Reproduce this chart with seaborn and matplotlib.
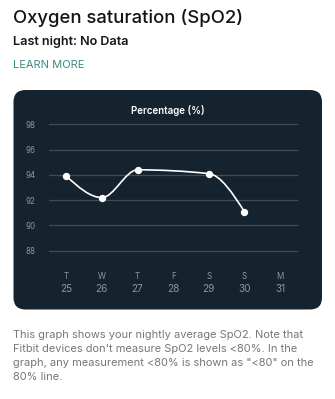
import numpy as np
import pandas as pd
import seaborn as sns
import matplotlib
matplotlib.use("Agg")
import matplotlib.pyplot as plt
from matplotlib.patches import FancyBboxPatch, PathPatch
from matplotlib.path import Path

# ---- data ----
day_letters = ["T", "W", "T", "F", "S", "S", "M"]
day_numbers = ["25", "26", "27", "28", "29", "30", "31"]
spo2 = [93.9, 92.2, 94.4, None, 94.1, 91.1, None]
y_ticks = [88, 90, 92, 94, 96, 98]

title = "Oxygen saturation (SpO2)"
subtitle = "Last night: No Data"
link = "LEARN MORE"
chart_title = "Percentage (%)"
note_lines = ["This graph shows your nightly average SpO2. Note that",
              "Fitbit devices don't measure SpO2 levels <80%. In the",
              "graph, any measurement <80% is shown as \"<80\" on the",
              "80% line."]

W, H = 335, 399
sns.set_theme(style="white")
plt.rcParams["font.family"] = ["Inter", "DejaVu Sans"]

fig = plt.figure(figsize=(W / 100, H / 100), dpi=100)
fig.patch.set_facecolor("white")

def fx(px):
    return px / W

def fy(py):
    return 1 - py / H

# header texts
fig.text(fx(13), fy(23.3), title, fontsize=13.3, color="#141414", va="baseline", ha="left", fontweight="medium")
fig.text(fx(13), fy(45), subtitle, fontsize=9.1, color="#161616", va="baseline", ha="left", fontweight="semibold")
fig.text(fx(13), fy(68.3), link, fontsize=8.0, color="#3a8b84", va="baseline", ha="left")

# card
card_bg = "#15232f"
card = FancyBboxPatch((fx(13.5), fy(309.5)), fx(322 - 13.5), (309.5 - 90) / H,
                      boxstyle="round,pad=0,rounding_size=0.036",
                      transform=fig.transFigure, facecolor=card_bg, edgecolor="none",
                      mutation_aspect=W / H, zorder=-10)
fig.patches.append(card)

fig.text(fx(168), fy(114.3), chart_title, fontsize=7.0, color="white", ha="center", va="baseline", fontweight="semibold")

# axes
x_left, x_right = 48.5, 297.8
y_top, y_bot = 111.7, 263.3
ax = fig.add_axes([fx(x_left), fy(y_bot), (x_right - x_left) / W, (y_bot - y_top) / H])
ax.set_facecolor("none")
ax.patch.set_visible(False)
ax.set_xlim(-0.5, 6.5)
ax.set_ylim(87, 99)
for s in ax.spines.values():
    s.set_visible(False)

for t in y_ticks:
    ax.axhline(t, color="#3d4d59", lw=0.9, zorder=1)

ax.set_yticks(y_ticks)
ax.set_yticklabels([str(t) for t in y_ticks], fontsize=5.8, color="#8b959c")
ax.tick_params(axis="y", length=0, pad=9.5)
ax.set_xticks([])

df = pd.DataFrame({"x": np.arange(len(day_numbers)), "v": spo2}).dropna()
xs = df["x"].to_numpy(float)
ys = df["v"].to_numpy(float)

# monotone cubic curve (d3 monotoneX style) as bezier path
n = len(xs)
h = np.diff(xs)
s = np.diff(ys) / h
t = np.zeros(n)
for i in range(1, n - 1):
    p = (s[i - 1] * h[i] + s[i] * h[i - 1]) / (h[i - 1] + h[i])
    t[i] = (np.sign(s[i - 1]) + np.sign(s[i])) * min(abs(s[i - 1]), abs(s[i]), 0.5 * abs(p))
t[0] = (3 * s[0] - t[1]) / 2
t[-1] = (3 * s[-1] - t[-2]) / 2
verts = [(xs[0], ys[0])]
codes = [Path.MOVETO]
for i in range(n - 1):
    dx = h[i] / 3
    verts += [(xs[i] + dx, ys[i] + dx * t[i]), (xs[i + 1] - dx, ys[i + 1] - dx * t[i + 1]), (xs[i + 1], ys[i + 1])]
    codes += [Path.CURVE4] * 3
ax.add_patch(PathPatch(Path(verts, codes), facecolor="none", edgecolor="white", lw=1.2, zorder=3))

sns.scatterplot(data=df, x="x", y="v", color="white", s=28, edgecolor="white", linewidth=0, ax=ax, zorder=4, legend=False)
ax.set_xlabel("")
ax.set_ylabel("")

for i, (l, d) in enumerate(zip(day_letters, day_numbers)):
    ax.annotate(l, xy=(i, 0), xycoords=("data", "axes fraction"), xytext=(0, -(276.7 - y_bot) * 0.72),
                textcoords="offset points", ha="center", va="center", fontsize=5.8, color="#8b959c")
    ax.annotate(d, xy=(i, 0), xycoords=("data", "axes fraction"), xytext=(0, -(289 - y_bot) * 0.72),
                textcoords="offset points", ha="center", va="center", fontsize=7.2, color="#8b959c")

# note
for k, line in enumerate(note_lines):
    fig.text(fx(13), fy(337.7 + 13.95 * k), line, fontsize=7.95, color="#777777", va="baseline", ha="left")

fig.savefig("out.png", dpi=100, facecolor="white")
